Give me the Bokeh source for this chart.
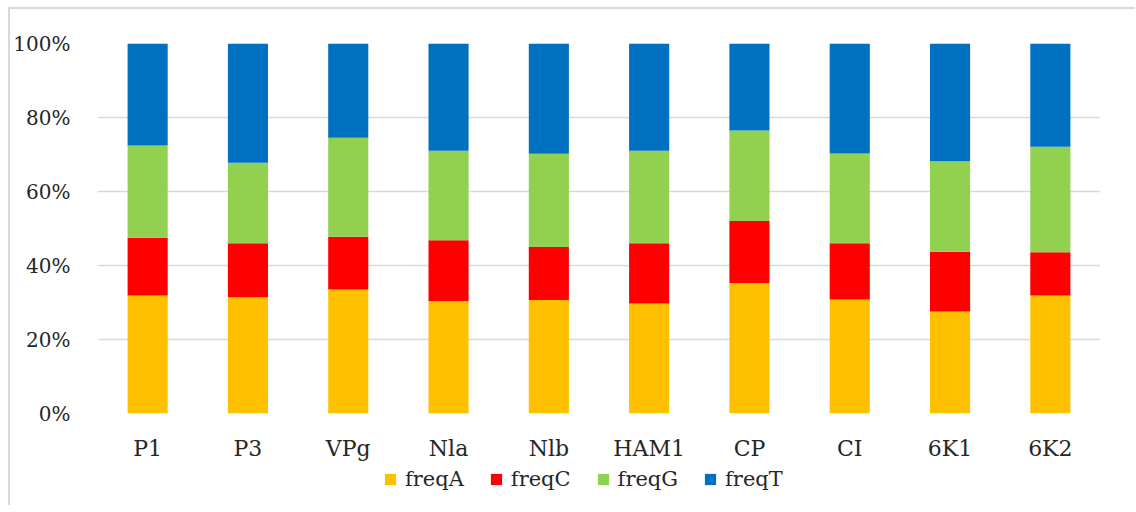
from bokeh.plotting import figure
from bokeh.layouts import column
from bokeh.models import ColumnDataSource, Legend, LegendItem, NumeralTickFormatter, FixedTicker
from bokeh.embed import file_html
from bokeh.resources import INLINE

labels = ["P1", "P3", "VPg", "Nla", "Nlb", "HAM1", "CP", "CI", "6K1", "6K2"]
freqA = [0.319, 0.314, 0.335, 0.304, 0.307, 0.297, 0.353, 0.308, 0.276, 0.319]
freqC = [0.156, 0.146, 0.143, 0.164, 0.143, 0.163, 0.167, 0.152, 0.161, 0.117]
freqG = [0.249, 0.218, 0.267, 0.242, 0.252, 0.250, 0.245, 0.243, 0.245, 0.285]
freqT = [round(1 - a - c - g, 3) for a, c, g in zip(freqA, freqC, freqG)]
series = ["freqA", "freqC", "freqG", "freqT"]
colors = ["#FFC000", "#FF0000", "#92D050", "#0070C0"]
y_ticks = [0, 0.2, 0.4, 0.6, 0.8, 1.0]

source = ColumnDataSource(dict(gene=labels, freqA=freqA, freqC=freqC, freqG=freqG, freqT=freqT))

FONT = "DejaVu Serif"
TXT = "#262626"
CW = 1124

p = figure(x_range=labels, y_range=(0, 1), frame_width=1003, frame_height=370,
           output_backend="svg", toolbar_location=None,
           min_border_left=86, min_border_top=34, min_border_right=35, min_border_bottom=52)
p.x_range.range_padding = 0
p.outline_line_color = None
p.background_fill_color = "white"
p.border_fill_color = "white"

renderers = p.vbar_stack(series, x="gene", width=0.4, color=colors, source=source, line_width=0)

p.yaxis.ticker = FixedTicker(ticks=y_ticks)
p.yaxis.formatter = NumeralTickFormatter(format="0%")
for ax in (p.xaxis[0], p.yaxis[0]):
    ax.axis_line_color = None
    ax.major_tick_line_color = None
    ax.minor_tick_line_color = None
    ax.major_tick_out = 0
    ax.major_label_text_font = FONT
    ax.major_label_text_color = TXT
p.yaxis.major_label_text_font_size = "20px"
p.xaxis.major_label_text_font_size = "22px"
p.yaxis.major_label_standoff = 27
p.xaxis.major_label_standoff = 22
p.xgrid.grid_line_color = None
p.ygrid.grid_line_color = "#d9d9d9"
p.ygrid.grid_line_width = 1.5
p.ygrid.ticker = FixedTicker(ticks=y_ticks)

# legend strip below the chart (its frame is aligned with the chart frame)
pl = figure(width=CW, height=40, x_range=(0, 1), y_range=(0, 1),
            output_backend="svg", toolbar_location=None, min_border=0)
pl.axis.visible = False
pl.grid.visible = False
pl.outline_line_color = None
pl.border_fill_color = "white"
leg_renderers = [pl.vbar(x=[-5], top=[-5], bottom=[-6], width=0.4, color=c, line_width=0)
                 for c in colors]
legend = Legend(items=[LegendItem(label=s, renderers=[r]) for s, r in zip(series, leg_renderers)],
                orientation="horizontal", location=(286, 14),
                label_text_font=FONT, label_text_font_size="21px", label_text_color=TXT,
                glyph_width=14, glyph_height=14, label_standoff=8, spacing=25,
                padding=0, margin=0, border_line_color=None, background_fill_alpha=0)
pl.add_layout(legend, "center")

layout = column(p, pl, spacing=0)
layout.styles = {"margin-left": "8px", "margin-top": "7px",
                 "border-left": "2px solid #d9d9d9", "border-top": "2px solid #d9d9d9"}

open("out.html", "w").write(file_html(layout, INLINE))
